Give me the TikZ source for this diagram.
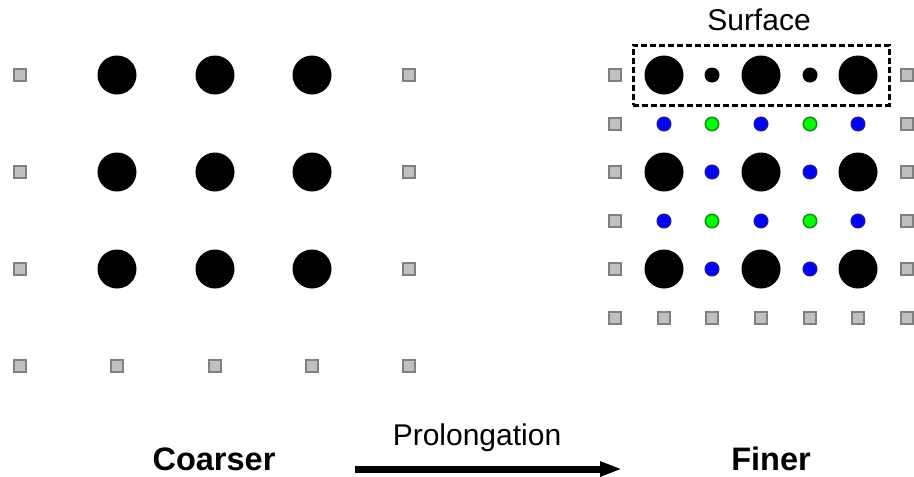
\documentclass[tikz,border=0pt]{standalone}
\usepackage{fontspec}
\setmainfont{Liberation Sans}
\usetikzlibrary{arrows.meta}
\definecolor{sqfill}{HTML}{C0C0C0}
\definecolor{sqedge}{HTML}{808080}
\definecolor{blueedge}{HTML}{1A1A9A}
\definecolor{greenedge}{HTML}{1A8A1A}
\begin{document}
\begin{tikzpicture}[x=1pt,y=-1pt,
  sq/.style={rectangle,draw=sqedge,fill=sqfill,line width=2.4pt,minimum size=11.6pt,inner sep=0pt},
  bigdot/.style={circle,fill=black,minimum size=39pt,inner sep=0pt},
  smalldot/.style={circle,fill=black,minimum size=15pt,inner sep=0pt},
  bluedot/.style={circle,fill=blue,draw=blueedge,line width=1.5pt,minimum size=13.5pt,inner sep=0pt},
  greendot/.style={circle,fill=green,draw=greenedge,line width=1.5pt,minimum size=13.5pt,inner sep=0pt},
  plain/.style={anchor=base,inner sep=0pt,font=\fontsize{30}{36}\selectfont},
  heading/.style={anchor=base,inner sep=0pt,font=\fontsize{32.5}{38}\selectfont\bfseries},
  surfacebox/.style={rectangle,draw=black,line width=3pt,dash pattern=on 6pt off 3pt,inner sep=0pt}]
\useasboundingbox (0,0) rectangle (914,477);

% ---- coarse grid ----
\foreach \x [count=\i] in {117,215,312}
  \foreach \y [count=\j] in {75,172,269}
    \node[bigdot] (cb-\i-\j) at (\x,\y) {};
\foreach \y [count=\j] in {75,172,269} {
  \node[sq] (cl-\j) at (20,\y) {};
  \node[sq] (cr-\j) at (409,\y) {};
}
\foreach \x [count=\i] in {20,117,215,312,409}
  \node[sq] (cbot-\i) at (\x,366) {};

% ---- fine grid ----
\foreach \x [count=\i] in {664,761,858}
  \foreach \y [count=\j] in {75,172,269}
    \node[bigdot] (fb-\i-\j) at (\x,\y) {};
\foreach \x [count=\i] in {712,810}
  \node[smalldot] (fs-\i) at (\x,75) {};
\foreach \y [count=\j] in {124,221} {
  \foreach \x [count=\i] in {664,761,858}
    \node[bluedot] (fbh-\i-\j) at (\x,\y) {};
  \foreach \x [count=\i] in {712,810}
    \node[greendot] (fg-\i-\j) at (\x,\y) {};
}
\foreach \y [count=\j] in {172,269}
  \foreach \x [count=\i] in {712,810}
    \node[bluedot] (fbv-\i-\j) at (\x,\y) {};
\foreach \y [count=\j] in {75,124,172,221,269} {
  \node[sq] (fl-\j) at (615,\y) {};
  \node[sq] (fr-\j) at (907,\y) {};
}
\foreach \x [count=\i] in {615,664,712,761,810,858,907}
  \node[sq] (fbot-\i) at (\x,318) {};

% ---- surface layer ----
\node[surfacebox,minimum width=256pt,minimum height=60pt] (surf) at (761,75) {};
\node[plain] (surflabel) at (759,30) {Surface};

% ---- labels and transfer arrow ----
\node[heading] (coarser) at (214,470) {Coarser};
\node[heading] (finer) at (771,470) {Finer};
\node[plain] (prolong) at (477,445) {Prolongation};
\coordinate (pstart) at (355,469);
\coordinate (pend) at (622,469);
\draw[line width=7pt,-{Triangle[length=22pt,width=14pt]}] (pstart) -- (pend);
\end{tikzpicture}
\end{document}
